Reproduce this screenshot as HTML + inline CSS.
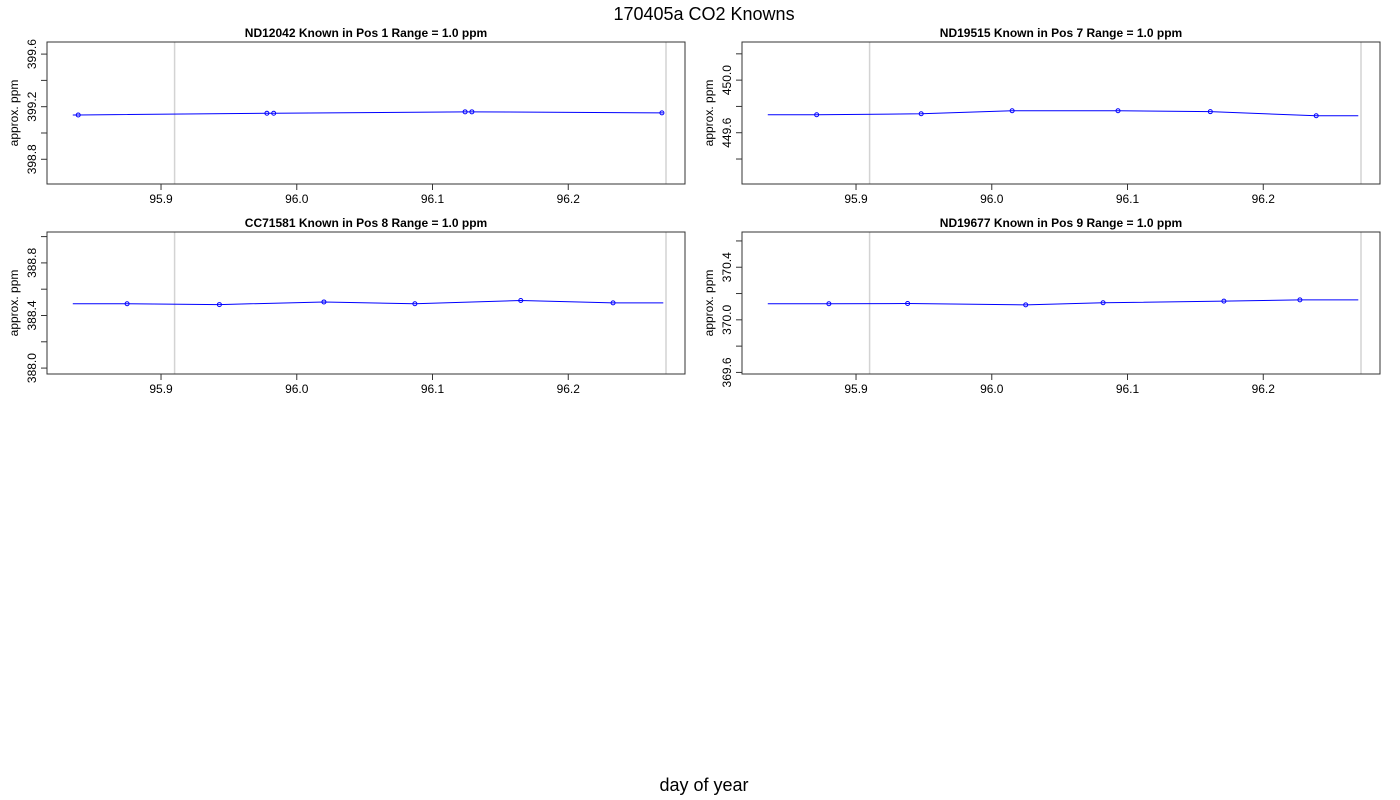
<!DOCTYPE html>
<html><head><meta charset="utf-8"><style>
body{margin:0;background:#fff;width:1400px;height:800px;overflow:hidden}
svg{display:block;font-family:"Liberation Sans",sans-serif}
</style></head><body>
<svg id="chart" width="1400" height="800">
<text x="704" y="20" font-size="18" text-anchor="middle">170405a   CO2 Knowns</text>
<text x="704" y="791" font-size="18" text-anchor="middle">day of year</text>
</svg>
<script>
const panelNames = ["ND12042","ND19515","CC71581","ND19677"];
const panelPos = [1,7,8,9];
const panelCenters = [399.152,449.75,388.495,370.128];
const xTicks = [95.9,96.0,96.1,96.2];
const xTickLabels = ["95.9","96.0","96.1","96.2"];
const vLines = [95.910,96.272];
const xDomain = [95.816,96.286];
const lineStart = 95.835, lineEnd = 96.270;
const tlX = [95.839,95.978,95.983,96.124,96.129,96.269];
const tlY = [399.137,399.150,399.150,399.161,399.161,399.153];
const trX = [95.871,95.948,96.015,96.093,96.161,96.239];
const trY = [449.737,449.744,449.767,449.767,449.760,449.729];
const blX = [95.875,95.943,96.020,96.087,96.165,96.233];
const blY = [388.489,388.483,388.503,388.489,388.514,388.496];
const brX = [95.880,95.938,96.025,96.082,96.171,96.227];
const brY = [370.122,370.124,370.114,370.130,370.142,370.152];
const seriesX = [tlX,trX,blX,brX];
const seriesY = [tlY,trY,blY,brY];

const NS="http://www.w3.org/2000/svg";
const svg=document.getElementById('chart');
function mk(tag,attrs,parent){const e=document.createElementNS(NS,tag);for(const k in attrs)e.setAttribute(k,attrs[k]);(parent||svg).appendChild(e);return e;}
const boxes=[[47,42],[742,42],[47,232],[742,232]];
const W=638,H=142;
for(let p=0;p<4;p++){
  const [L,T]=boxes[p];
  const g=mk('g',{});
  
  
  const xs=v=>L+(v-xDomain[0])/(xDomain[1]-xDomain[0])*W;
  const c=panelCenters[p];
  const yDom=[c-0.54,c+0.54];
  const ys=v=>T+H-(v-yDom[0])/(yDom[1]-yDom[0])*H;
  // title
  const t=mk('text',{x:L+319,y:T-5,'font-size':12,'font-weight':'bold','text-anchor':'middle','xml:space':'preserve'},g);
  
  
  t.textContent=panelNames[p]+"    Known in Pos "+panelPos[p]+"         Range = 1.0 ppm";
  // vertical lines
  vLines.forEach(v=>{const l=mk('line',{x1:xs(v),x2:xs(v),y1:T,y2:T+H,stroke:'#d3d3d3','stroke-width':1.5},g);
    
    });
  // box
  const r=mk('rect',{x:L,y:T,width:W,height:H,fill:'none',stroke:'#333','stroke-width':1},g);
  
  
  // x ticks
  xTicks.forEach((v,i)=>{mk('line',{x1:xs(v),x2:xs(v),y1:T+H,y2:T+H+6,stroke:'#333'},g);
    const tx=mk('text',{x:xs(v),y:T+H+19,'font-size':12,'text-anchor':'middle'},g);
    
    
    tx.textContent=xTickLabels[i];});
  // y ticks every 0.2
  const base=Math.round((c-0.6)*5)/5;
  for(let k=0;k<8;k++){
    const v=Math.round((base+k*0.2)*10)/10;
    const y=ys(v); if(y<T-0.5||y>T+H+0.5)continue;
    mk('line',{x1:L-6,x2:L,y1:y,y2:y,stroke:'#333'},g);
    if(Math.round(v*10)%4===0){
      const ty=mk('text',{x:0,y:0,'font-size':12,'text-anchor':'middle',transform:`translate(${L-11},${y}) rotate(-90)`},g);
      
      
      ty.textContent=v.toFixed(1);
    }
  }
  const yl=mk('text',{x:0,y:0,'font-size':12,'text-anchor':'middle',transform:`translate(${L-29},${T+H/2}) rotate(-90)`},g);
  
  
  yl.textContent='approx. ppm';
  const X=seriesX[p],Y=seriesY[p];
  const pts=[[xs(lineStart),ys(Y[0])]].concat(X.map((v,i)=>[xs(v),ys(Y[i])])).concat([[xs(lineEnd),ys(Y[Y.length-1])]]);
  const pl=mk('polyline',{points:pts.map(q=>q.join(',')).join(' '),fill:'none',stroke:'#0000ff','stroke-width':1},g);
  
  
  X.forEach((v,i)=>{const ci=mk('circle',{cx:xs(v),cy:ys(Y[i]),r:2,fill:'none',stroke:'#0000ff','stroke-width':1},g);
    
    });
}
</script>
</body></html>
